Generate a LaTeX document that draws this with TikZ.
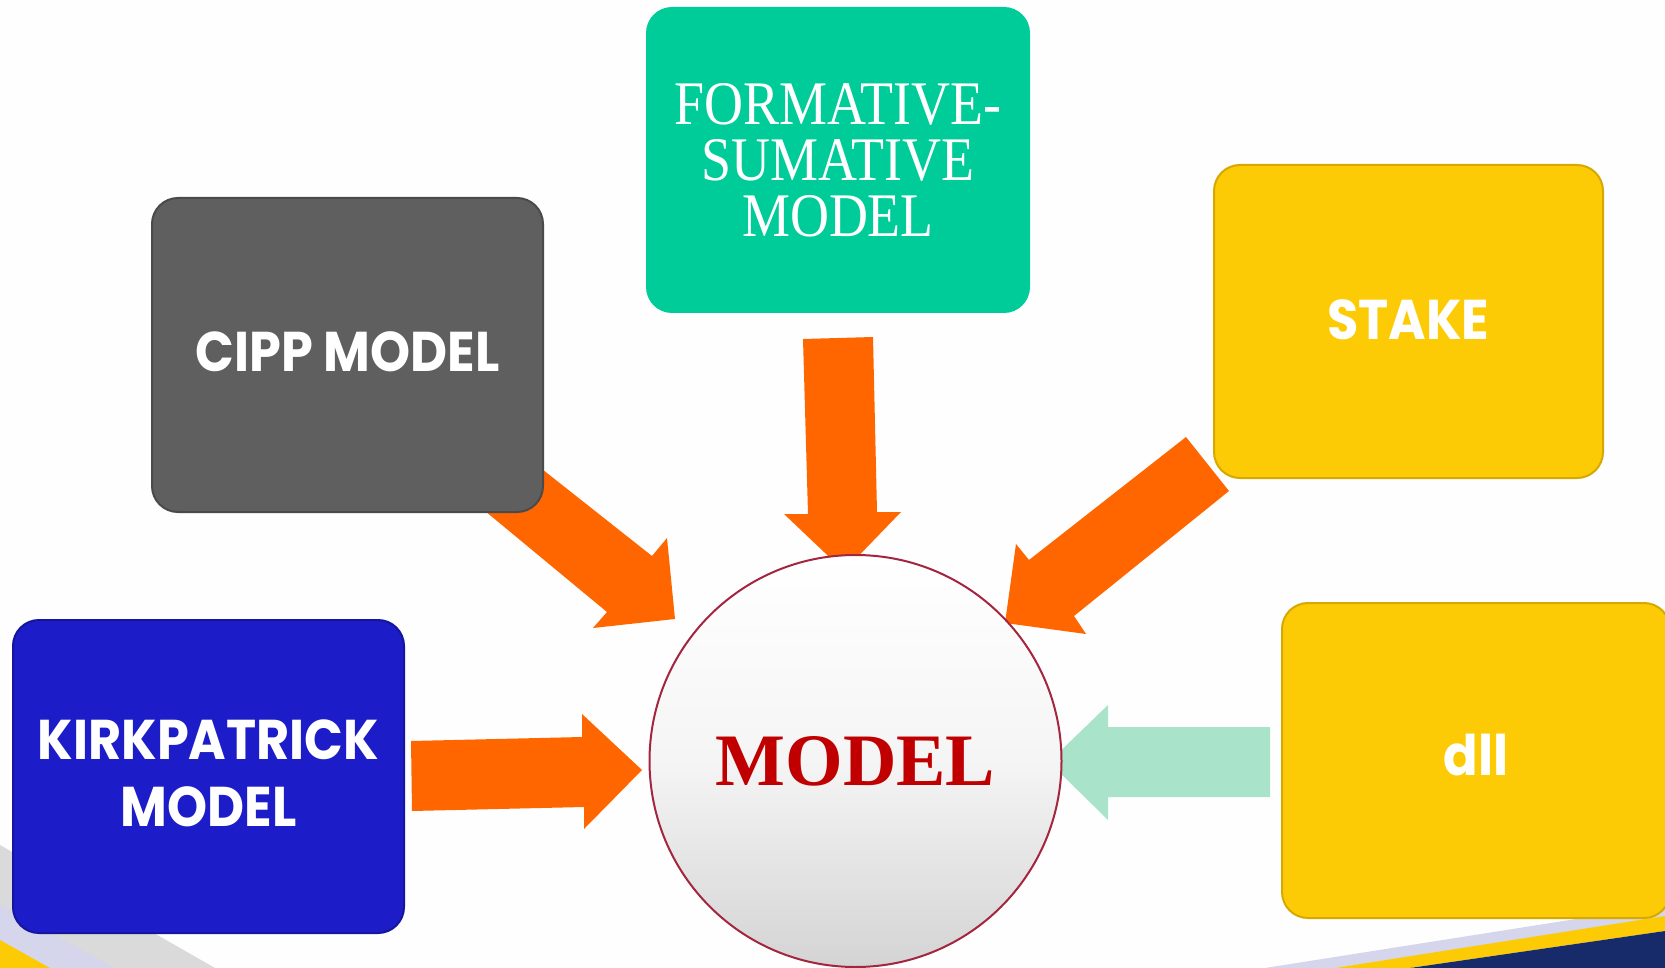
\documentclass[tikz,border=0pt]{standalone}
\usepackage{fontspec}
\setmainfont{Liberation Serif}
\newfontfamily\popfont{Poppins}[FakeStretch=0.91]
\newfontfamily\sercond{Liberation Serif}[FakeStretch=0.87]
\definecolor{orangeA}{HTML}{FF6600}
\definecolor{mintA}{HTML}{A9E3CA}
\definecolor{tealA}{HTML}{00CC99}
\definecolor{grayA}{HTML}{5F5F5F}
\definecolor{grayB}{HTML}{4A4A4A}
\definecolor{yellowA}{HTML}{FDCB06}
\definecolor{yellowB}{HTML}{D6A800}
\definecolor{blueA}{HTML}{1C1CC8}
\definecolor{blueB}{HTML}{15159E}
\definecolor{redA}{HTML}{C00000}
\definecolor{rimA}{HTML}{A3253F}
\definecolor{navyA}{HTML}{172B6B}
\definecolor{lavA}{HTML}{D5D5EC}
\definecolor{swoopgray}{HTML}{DADADA}
\begin{document}
\begin{tikzpicture}[x=0.5pt,y=-0.5pt,
  modelbox/.style={rounded corners=13pt, inner sep=0pt},
  boxtext/.style={inner sep=0pt, text=white, align=center},
  sanslabel/.style={boxtext, font=\popfont\bfseries\fontsize{28}{33.5}\selectfont},
  serlabel/.style={boxtext, font=\sercond\fontsize{31}{28}\selectfont},
  blockarrow/.style={fill=orangeA, draw=none},
  hub/.style={circle, draw=rimA, line width=1pt, minimum size=206pt, inner sep=0pt,
    top color=white, bottom color=black!17, middle color=white!96!black,
    text=redA, font=\bfseries\fontsize{37}{40}\selectfont}
]
\useasboundingbox (0,0) rectangle (1665,968);
\fill[white!99.5!black] (0,0) rectangle (1665,968);

% bottom decorations
\fill[swoopgray] (0,845) -- (215,968) -- (0,968) -- cycle;
\fill[lavA] (0,905) -- (115,968) -- (0,968) -- cycle;
\fill[yellowA] (0,940) -- (50,968) -- (0,968) -- cycle;
\fill[lavA] (1265,968) -- (1665,905) -- (1665,918) -- (1335,968) -- cycle;
\fill[yellowA] (1335,968) -- (1665,916) -- (1665,931) -- (1410,968) -- cycle;
\fill[navyA] (1410,968) -- (1665,931) -- (1665,968) -- cycle;

% arrows behind boxes
\fill[blockarrow] (509,443) -- (652,556) -- (667,538) -- (675,619) -- (593,628) -- (607,612) -- (456,487) -- cycle;
\fill[blockarrow] (1186,437) -- (1029,560) -- (1016,544) -- (1005,623) -- (1086,634) -- (1074,616) -- (1229,491) -- cycle;
\fill[blockarrow] (803,339) -- (873,337) -- (877,512) -- (901,512) -- (844,571) -- (784,514) -- (808,514) -- cycle;
\fill[blockarrow] (411,741) -- (582,737) -- (582,714) -- (642,770) -- (584,829) -- (584,807) -- (412,811) -- cycle;
\fill[mintA] (1270,727) -- (1108,727) -- (1108,705) -- (1049,762) -- (1108,820) -- (1108,797) -- (1270,797) -- cycle;

% boxes
\node[modelbox, fill=tealA, minimum width=192pt, minimum height=153pt] (form) at (838,160) {};
\node[modelbox, fill=grayA, draw=grayB, line width=1pt, minimum width=195.5pt, minimum height=157pt] (cipp) at (347.5,355) {};
\node[modelbox, fill=yellowA, draw=yellowB, line width=1pt, minimum width=194.5pt, minimum height=156.5pt] (stake) at (1408.5,321.5) {};
\node[modelbox, fill=blueA, draw=blueB, line width=1pt, minimum width=195.5pt, minimum height=156.5pt] (kirk) at (208.5,776.5) {};
\node[modelbox, fill=yellowA, draw=yellowB, line width=1pt, minimum width=194pt, minimum height=157.5pt] (dll) at (1476,760.5) {};

% box labels
\node[serlabel] (formt) at (838,160) {FORMATIVE-\\SUMATIVE\\MODEL};
\node[sanslabel] (cippt) at (347.5,352) {CIPP MODEL};
\node[sanslabel] (staket) at (1408.5,320) {STAKE};
\node[sanslabel] (kirkt) at (208.5,773) {KIRKPATRICK\\MODEL};
\node[sanslabel] (dllt) at (1476,755) {dll};

% hub
\node[hub] (model) at (855.5,761) {MODEL};
\end{tikzpicture}
\end{document}
